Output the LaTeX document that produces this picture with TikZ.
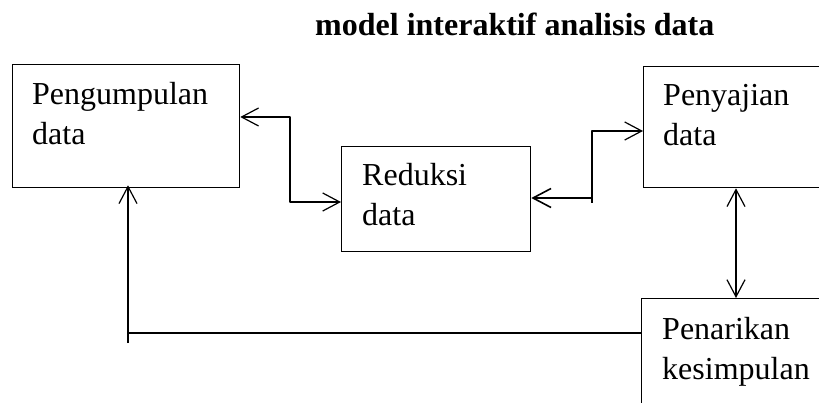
\documentclass[tikz,border=0pt]{standalone}
\usepackage{fontspec}
\setmainfont{Liberation Serif}
\usetikzlibrary{arrows.meta}
\begin{document}
\begin{tikzpicture}[x=1pt,y=-1pt,
  box/.style={draw,line width=1.3pt,rectangle,inner sep=0pt,anchor=north west},
  lbl/.style={anchor=north west,inner sep=0pt,align=left,font=\fontsize{32}{40}\selectfont},
  conn/.style={line width=1.2pt,line join=round},
  tip/.tip={Straight Barb[length=17pt,width=18pt,line width=1.2pt]}
]
\useasboundingbox (0,0) rectangle (819,403);
\clip (0,0) rectangle (819,403);
\fill[white] (0,0) rectangle (819,403);

% title
\node[anchor=base west,inner sep=0pt,font=\fontsize{32}{40}\selectfont\bfseries] (title) at (315,36) {model interaktif analisis data};

% boxes
\node[box,minimum width=227pt,minimum height=123pt] (pb) at (12,64) {};
\node[box,minimum width=189pt,minimum height=105pt] (rb) at (341,146) {};
\node[box,minimum width=240pt,minimum height=121pt] (sb) at (643,66) {};
\node[box,minimum width=240pt,minimum height=160pt] (nb) at (641,298) {};

% box texts
\node[lbl] (pt) at (32,82) {Pengumpulan\\data};
\node[lbl] (rt) at (362,163) {Reduksi\\data};
\node[lbl] (st) at (663,84) {Penyajian\\data};
\node[lbl] (nt) at (662,317) {Penarikan\\kesimpulan};

% connector 1: Pengumpulan <-> Reduksi
\coordinate (k1) at (290,117);
\coordinate (k2) at (290,202);
\draw[conn,tip-tip] (k1 -| pb.east) -- (k1) -- (k2) -- (k2 -| rb.west);

% connector 2: Reduksi <-> Penyajian
\coordinate (k3) at (592,198);
\coordinate (k3b) at (592,203);
\coordinate (k4) at (592,131);
\draw[line width=2.2pt,-{Straight Barb[length=18pt,width=19pt,line width=1.6pt]}] (k3) -- (k3 -| rb.east);
\draw[conn,-tip] (k3b) -- (k4) -- (k4 -| sb.west);

% connector 3: Penyajian <-> Penarikan
\coordinate (k5) at (736,240);
\draw[conn,tip-tip] (k5 |- sb.south) -- (k5 |- nb.north);

% connector 4: Penarikan -> Pengumpulan (feedback)
\coordinate (k6) at (128,333);
\coordinate (k7) at (128,343);
\draw[conn] (k6 -| nb.west) -- (k6);
\draw[conn,-tip,shorten >=-3pt] (k7) -- (k7 |- pb.south);
\end{tikzpicture}
\end{document}
